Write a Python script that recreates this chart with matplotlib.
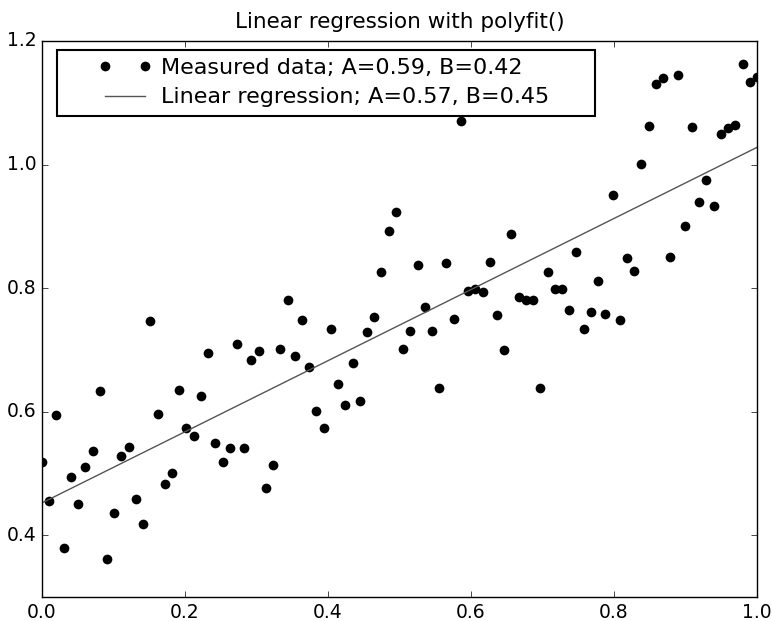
import numpy as np
import matplotlib
matplotlib.use("Agg")
import matplotlib.pyplot as plt
from matplotlib.legend_handler import HandlerLine2D

x_values = np.linspace(0.0, 1.0, 100)
y_measured = [
    0.519, 0.455, 0.594, 0.380, 0.494, 0.450, 0.511, 0.536, 0.634, 0.362,
    0.436, 0.528, 0.543, 0.458, 0.418, 0.747, 0.596, 0.483, 0.501, 0.635,
    0.574, 0.560, 0.626, 0.695, 0.550, 0.519, 0.541, 0.710, 0.541, 0.683,
    0.699, 0.477, 0.513, 0.701, 0.781, 0.690, 0.749, 0.673, 0.601, 0.573,
    0.734, 0.645, 0.611, 0.679, 0.618, 0.729, 0.754, 0.826, 0.892, 0.923,
    0.702, 0.731, 0.837, 0.770, 0.730, 0.639, 0.841, 0.750, 1.071, 0.795,
    0.799, 0.793, 0.843, 0.757, 0.700, 0.887, 0.786, 0.781, 0.781, 0.639,
    0.826, 0.798, 0.798, 0.765, 0.859, 0.734, 0.762, 0.812, 0.758, 0.950,
    0.749, 0.848, 0.827, 1.001, 1.062, 1.130, 1.140, 0.850, 1.145, 0.900,
    1.061, 0.939, 0.975, 0.933, 1.049, 1.059, 1.064, 1.163, 1.134, 1.141,
]
label_data = "Measured data; A=0.59, B=0.42"
label_fit = "Linear regression; A=0.57, B=0.45"
title = "Linear regression with polyfit()"
x_ticks = [0.0, 0.2, 0.4, 0.6, 0.8, 1.0]
y_ticks = [0.4, 0.6, 0.8, 1.0, 1.2]


class ShiftedHandler(HandlerLine2D):
    """Draw the legend handle in the right part of a wider handle box."""

    def __init__(self, lead_em=1.47, **kw):
        super().__init__(**kw)
        self.lead_em = lead_em

    def create_artists(self, legend, orig_handle, xdescent, ydescent,
                       width, height, fontsize, trans):
        off = self.lead_em * fontsize
        return super().create_artists(legend, orig_handle, xdescent - off,
                                      ydescent, width - off, height,
                                      fontsize, trans)


plt.style.use("classic")
plt.rcParams["font.family"] = ["DejaVu Sans"]

fig = plt.figure(figsize=(7.72, 6.21), dpi=100, facecolor="white")
ax = fig.add_axes([0.0544, 0.0386, 0.9262, 0.8954])
ax.set_facecolor("white")

y_arr = np.array(y_measured)
a_fit, b_fit = np.polyfit(x_values, y_arr, 1)
y_fit = np.polyval([a_fit, b_fit], x_values)

ax.plot(x_values, y_arr, "o", color="black", markersize=7, markeredgewidth=0,
        label=label_data)
ax.plot(x_values, y_fit, "-", color="#555555", linewidth=1.0, label=label_fit)

ax.set_xlim(0.0, 1.0)
ax.set_ylim(0.3, 1.2)
ax.set_xticks(x_ticks)
ax.set_xticklabels([f"{v:.1f}" for v in x_ticks])
ax.set_yticks(y_ticks)
ax.set_yticklabels([f"{v:.1f}" for v in y_ticks])
ax.tick_params(labelsize=13.5)
ax.set_title(title, fontsize=15.5, pad=9)

leg = ax.legend(loc="upper left", numpoints=2, fontsize=16, fancybox=False,
                frameon=True, mode="expand",
                bbox_to_anchor=(0.021, 0.876, 0.752, 0.108),
                borderaxespad=0.0, borderpad=0.37, labelspacing=0.42,
                handlelength=3.87, handletextpad=0.44,
                handler_map={plt.Line2D: ShiftedHandler()})
leg.get_frame().set_edgecolor("black")
leg.get_frame().set_linewidth(1.5)

fig.savefig("out.png", dpi=100, facecolor="white")
